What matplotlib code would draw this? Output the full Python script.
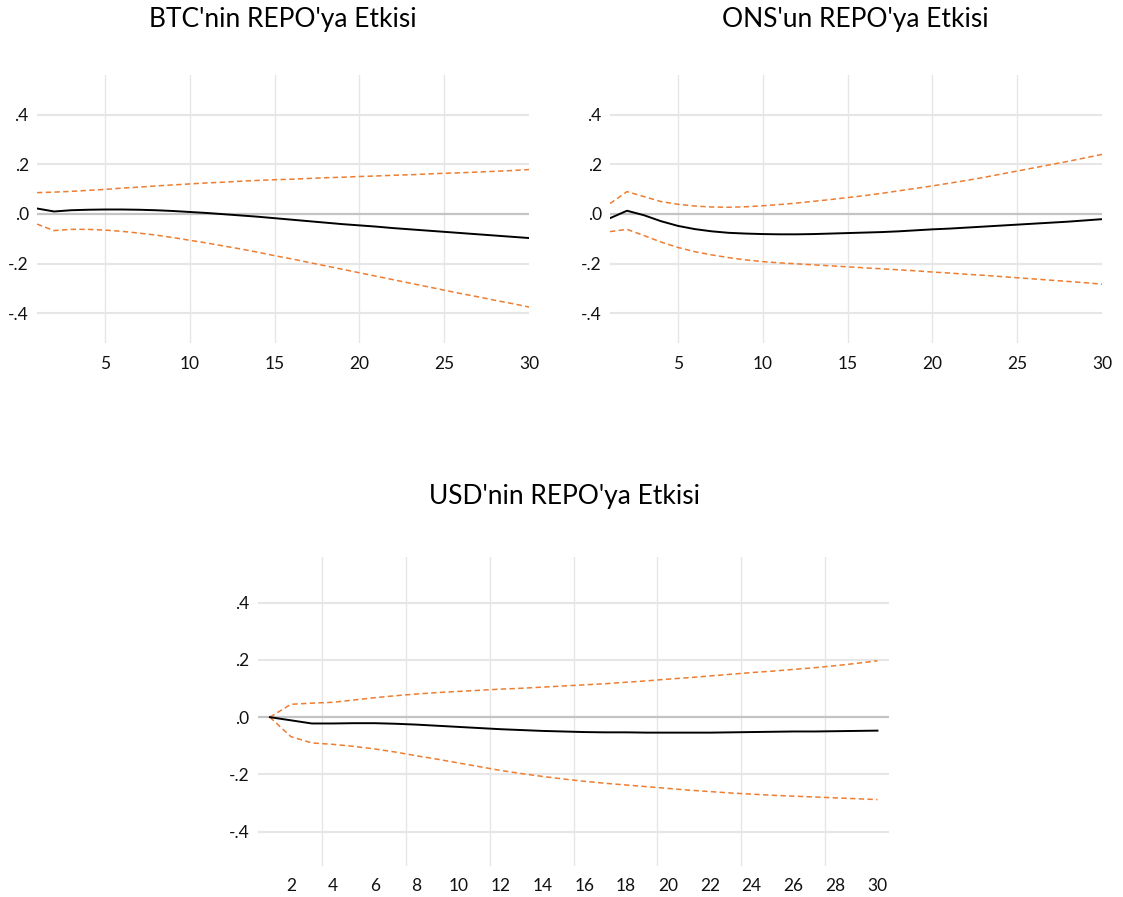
import numpy as np
import matplotlib.pyplot as plt

plt.rcParams['font.family'] = ['Lato', 'DejaVu Sans']

# dönemler
periods = np.arange(1, 31)

# BTC -> REPO etki-tepki ve güven bantları
btc_resp = [0.022, 0.010, 0.015, 0.017, 0.018, 0.018, 0.017, 0.015, 0.012, 0.008,
            0.004, -0.001, -0.006, -0.011, -0.017, -0.023, -0.029, -0.035, -0.041, -0.046,
            -0.051, -0.057, -0.062, -0.067, -0.072, -0.077, -0.082, -0.087, -0.092, -0.097]
btc_upper = [0.086, 0.088, 0.091, 0.095, 0.099, 0.104, 0.108, 0.113, 0.117, 0.121,
             0.125, 0.128, 0.132, 0.135, 0.138, 0.140, 0.143, 0.146, 0.148, 0.151,
             0.153, 0.156, 0.158, 0.161, 0.164, 0.166, 0.169, 0.172, 0.175, 0.179]
btc_lower = [-0.041, -0.067, -0.062, -0.062, -0.065, -0.070, -0.077, -0.085, -0.095, -0.106,
             -0.117, -0.129, -0.141, -0.154, -0.168, -0.181, -0.195, -0.209, -0.223, -0.237,
             -0.251, -0.265, -0.279, -0.293, -0.307, -0.321, -0.334, -0.348, -0.361, -0.375]

# ONS -> REPO
ons_resp = [-0.017, 0.013, -0.005, -0.029, -0.048, -0.061, -0.070, -0.076, -0.079, -0.081,
            -0.082, -0.082, -0.081, -0.079, -0.077, -0.075, -0.073, -0.070, -0.066, -0.062,
            -0.059, -0.055, -0.051, -0.047, -0.043, -0.039, -0.035, -0.031, -0.026, -0.021]
ons_upper = [0.042, 0.090, 0.070, 0.050, 0.039, 0.032, 0.028, 0.027, 0.029, 0.033,
             0.038, 0.044, 0.051, 0.058, 0.066, 0.074, 0.083, 0.093, 0.103, 0.113,
             0.124, 0.135, 0.147, 0.160, 0.173, 0.186, 0.199, 0.212, 0.226, 0.240]
ons_lower = [-0.071, -0.062, -0.087, -0.113, -0.135, -0.152, -0.165, -0.176, -0.185, -0.192,
             -0.197, -0.201, -0.205, -0.209, -0.213, -0.217, -0.221, -0.225, -0.229, -0.234,
             -0.238, -0.243, -0.247, -0.252, -0.257, -0.262, -0.267, -0.272, -0.277, -0.283]

# USD -> REPO
usd_resp = [0.000, -0.011, -0.022, -0.022, -0.021, -0.021, -0.023, -0.026, -0.030, -0.034,
            -0.038, -0.042, -0.045, -0.048, -0.050, -0.052, -0.053, -0.053, -0.054, -0.054,
            -0.054, -0.054, -0.053, -0.052, -0.051, -0.050, -0.050, -0.049, -0.048, -0.047]
usd_upper = [0.000, 0.045, 0.049, 0.052, 0.060, 0.068, 0.075, 0.081, 0.086, 0.090,
             0.094, 0.098, 0.101, 0.105, 0.109, 0.113, 0.117, 0.122, 0.127, 0.133,
             0.138, 0.144, 0.150, 0.156, 0.161, 0.167, 0.173, 0.180, 0.188, 0.197]
usd_lower = [0.000, -0.068, -0.090, -0.095, -0.102, -0.111, -0.122, -0.135, -0.147, -0.160,
             -0.173, -0.186, -0.197, -0.207, -0.216, -0.224, -0.231, -0.237, -0.243, -0.249,
             -0.255, -0.260, -0.265, -0.269, -0.273, -0.276, -0.279, -0.282, -0.285, -0.288]

y_ticks = [0.4, 0.2, 0.0, -0.2, -0.4]
y_labels = ['.4', '.2', '.0', '-.2', '-.4']

ORANGE = '#ED7D31'
GRID = '#e6e6e6'

fig = plt.figure(figsize=(11.23, 8.97), dpi=100)


def draw_panel(ax, resp, upper, lower, xlim, xticks, vgrid):
    ax.set_xlim(*xlim)
    ax.set_ylim(-0.52, 0.56)
    for v in vgrid:
        ax.axvline(v, color=GRID, lw=1.0, zorder=0)
    for t in y_ticks:
        if t != 0:
            ax.plot(xlim, [t, t], color=GRID, lw=1.5, zorder=0, solid_capstyle='butt')
    ax.plot(xlim, [0, 0], color='#c4c4c4', lw=1.6, zorder=1, solid_capstyle='butt')
    ax.plot(periods, upper, color=ORANGE, lw=1.1, ls=(0, (3.5, 2.2)), zorder=2)
    ax.plot(periods, lower, color=ORANGE, lw=1.1, ls=(0, (3.5, 2.2)), zorder=2)
    ax.plot(periods, resp, color='black', lw=1.4, zorder=3)
    ax.set_yticks(y_ticks)
    ax.set_yticklabels(y_labels)
    ax.set_xticks(xticks)
    ax.set_xticklabels([str(t) for t in xticks])
    ax.tick_params(length=0, labelsize=12.5, colors='#111111', pad=6)
    for s in ax.spines.values():
        s.set_visible(False)


# üst sol: BTC
ax1 = fig.add_axes([0.0330, 0.6176, 0.4381, 0.2988])
draw_panel(ax1, btc_resp, btc_upper, btc_lower, (1, 30),
           [5, 10, 15, 20, 25, 30], [5, 10, 15, 20, 25])
ax1.tick_params(axis='x', pad=9)

# üst sağ: ONS
ax2 = fig.add_axes([0.5432, 0.6176, 0.4381, 0.2988])
draw_panel(ax2, ons_resp, ons_upper, ons_lower, (1, 30),
           [5, 10, 15, 20, 25, 30], [5, 10, 15, 20, 25])
ax2.tick_params(axis='x', pad=9)

# alt: USD
ax3 = fig.add_axes([0.2297, 0.0346, 0.5619, 0.3445])
draw_panel(ax3, usd_resp, usd_upper, usd_lower, (0.43, 30.55),
           list(range(2, 31, 2)), [3.5, 7.5, 11.5, 15.5, 19.5, 23.5, 27.5])
ax3.tick_params(axis='x', pad=9)

fig.text(0.252, 0.978, "BTC'nin REPO'ya Etkisi", ha='center', va='center', fontsize=19)
fig.text(0.762, 0.978, "ONS'un REPO'ya Etkisi", ha='center', va='center', fontsize=19)
fig.text(0.503, 0.446, "USD'nin REPO'ya Etkisi", ha='center', va='center', fontsize=19)

fig.savefig('out.png', dpi=100, facecolor='white')
